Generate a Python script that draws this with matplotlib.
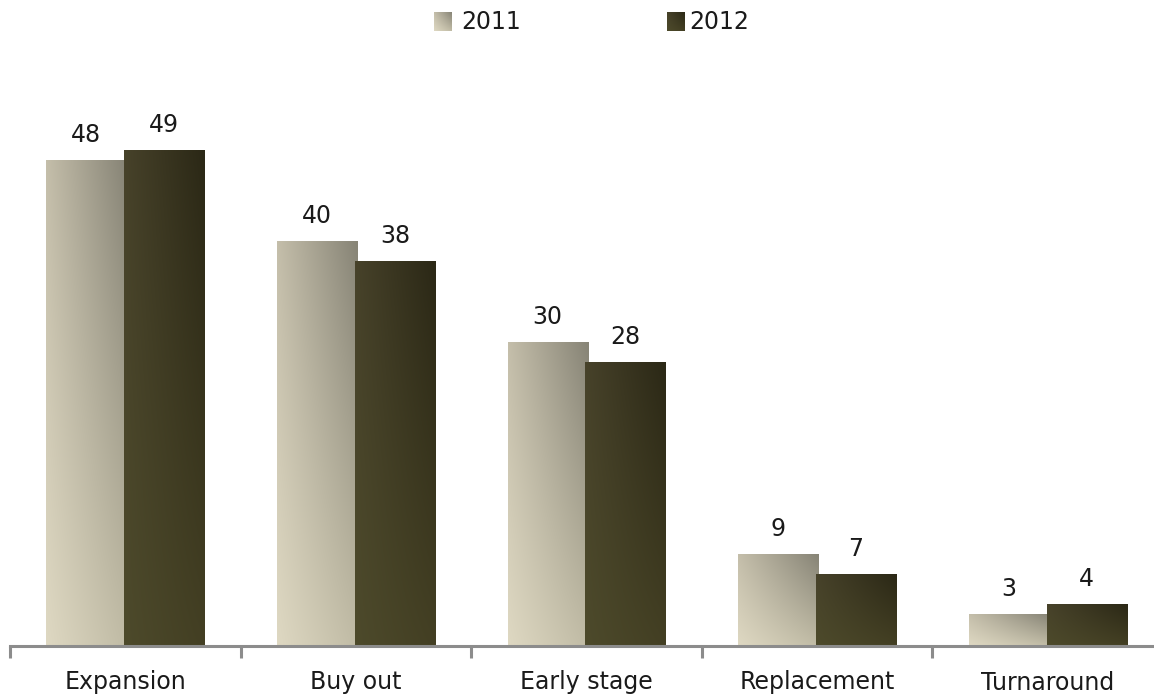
import numpy as np
import matplotlib
matplotlib.use("Agg")
import matplotlib.pyplot as plt
from matplotlib.colors import to_rgb

categories = ["Expansion", "Buy out", "Early stage", "Replacement", "Turnaround"]
series_names = ["2011", "2012"]
values_2011 = [48, 40, 30, 9, 3]
values_2012 = [49, 38, 28, 7, 4]

# corner colours of the bar gradients: bottom-left, bottom-right, top-left, top-right
grad_2011 = ["#ded8c2", "#c0bba5", "#c4beaa", "#878476"]
grad_2012 = ["#4d4a2b", "#433f23", "#47422a", "#2b2816"]

W, H = 1154, 697
DPI = 100
fig = plt.figure(figsize=(W / DPI, H / DPI), dpi=DPI)
plt.rcParams["font.family"] = ["DejaVu Sans"]

px_per_unit = 10.06
axis_y = 645.5
top_y = 60
ax_left = 10 / W
ax_width = 5 * 230.6 / W
ax_bottom = (H - axis_y) / H
ax_height = (axis_y - top_y) / H
ax = fig.add_axes([ax_left, ax_bottom, ax_width, ax_height])
ymax = (axis_y - 1.5 - top_y) / px_per_unit


def gradient_image(corners, n=64):
    bl, br, tl, tr = [np.array(to_rgb(c)) for c in corners]
    u = np.linspace(0, 1, n)[None, :, None]
    v = np.linspace(0, 1, n)[:, None, None]
    bottom = bl * (1 - u) + br * u
    top = tl * (1 - u) + tr * u
    return bottom * (1 - v) + top * v


x = np.arange(len(categories))
bw = 0.347
off = 0.169
bars1 = ax.bar(x - off, values_2011, bw, facecolor="none", edgecolor="none")
bars2 = ax.bar(x + off, values_2012, bw, facecolor="none", edgecolor="none")

img1 = gradient_image(grad_2011)
img2 = gradient_image(grad_2012)
for bars, img, z in ((bars1, img1, 1), (bars2, img2, 2)):
    for r in bars:
        x0, w, h = r.get_x(), r.get_width(), r.get_height()
        ax.imshow(img, extent=(x0, x0 + w, 0, h), origin="lower",
                  aspect="auto", interpolation="bilinear", zorder=z)

for bars, vals in ((bars1, values_2011), (bars2, values_2012)):
    for r, v in zip(bars, vals):
        ax.annotate(f"{v}", (r.get_x() + r.get_width() / 2, v),
                    xytext=(0, 10), textcoords="offset points",
                    ha="center", va="bottom", fontsize=17, color="#1a1a1a")

ax.set_xlim(-0.5, len(categories) - 0.5)
ax.set_ylim(0, ymax)

for s in ("top", "right", "left"):
    ax.spines[s].set_visible(False)
ax.spines["bottom"].set_color("#8c8c8c")
ax.spines["bottom"].set_linewidth(2.2)
ax.spines["bottom"].set_zorder(5)

ax.set_yticks([])
ax.set_xticks(np.arange(len(categories) + 1) - 0.5)
ax.set_xticklabels([])
ax.tick_params(axis="x", which="major", direction="out", length=8.5,
               width=2.2, color="#8c8c8c")
ax.set_xticks(x, minor=True)
ax.set_xticklabels(categories, minor=True, fontsize=17, color="#1a1a1a")
ax.tick_params(axis="x", which="minor", length=0, pad=18)

# legend: gradient swatches with labels
legend_items = [(434, 461, img1, series_names[0]), (667, 689, img2, series_names[1])]
for sx, tx, img, name in legend_items:
    sw = fig.add_axes([sx / W, (H - 31) / H, 18 / W, 19 / H])
    sw.imshow(img, origin="lower", aspect="auto", interpolation="bilinear")
    sw.axis("off")
    fig.text(tx / W, (H - 22) / H, name, fontsize=17, color="#1a1a1a",
             ha="left", va="center")

fig.savefig("out.png", dpi=DPI)
